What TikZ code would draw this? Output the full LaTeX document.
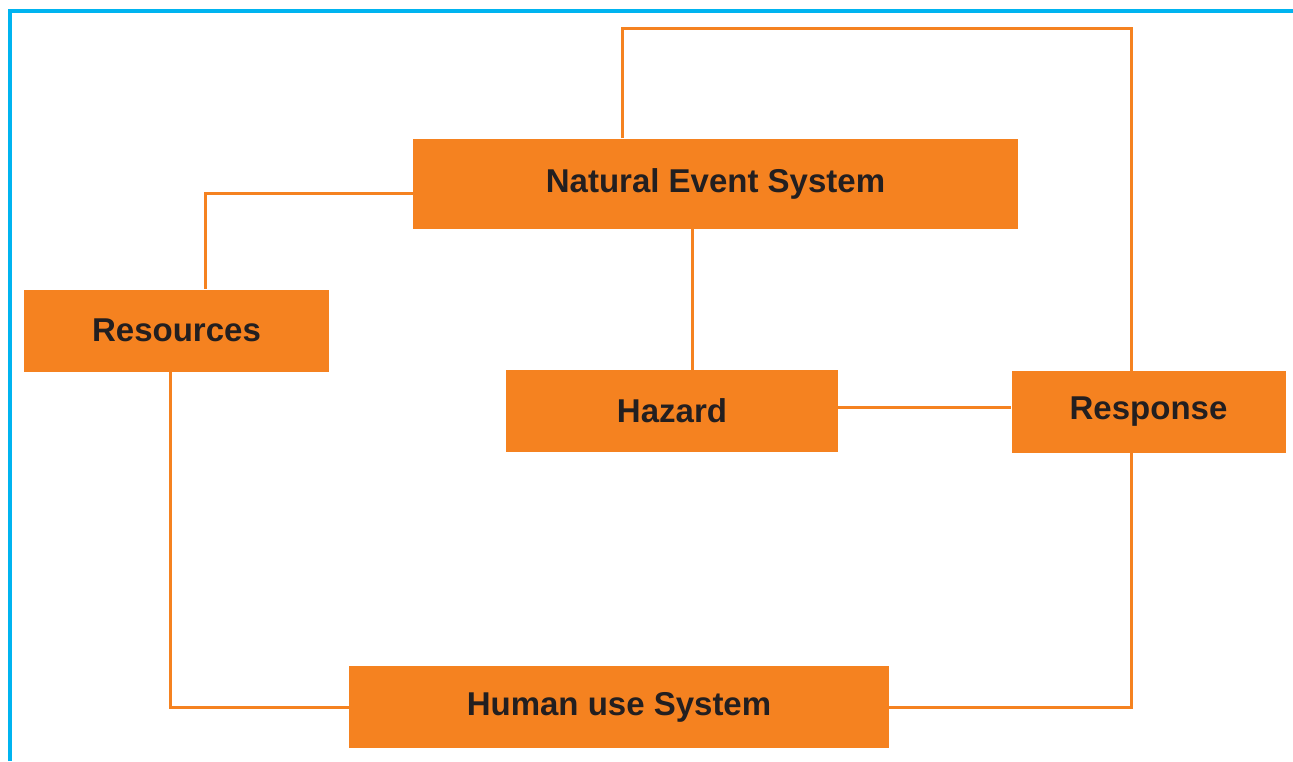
\documentclass[tikz,border=0pt]{standalone}
\usepackage{fontspec}
\setmainfont{Liberation Sans}
\definecolor{boxorange}{HTML}{F58220}
\definecolor{frameblue}{HTML}{00B4F0}
\definecolor{labeltext}{HTML}{231F20}
\begin{document}
\begin{tikzpicture}[x=1pt,y=-1pt,
  sysbox/.style={fill=boxorange,draw=none,inner sep=0pt,anchor=center,
    text=labeltext,font=\fontsize{33}{37}\selectfont\bfseries},
  link/.style={draw=boxorange,line width=3pt}]
\useasboundingbox (0,0) rectangle (1293,761);
% frame along the top and left edges
\draw[frameblue,line width=4pt] (10,761) -- (10,11) -- (1293,11);
% boxes
\node[sysbox,minimum width=605pt,minimum height=90pt] (nes) at (715.5,183.5) {Natural Event System};
\node[sysbox,minimum width=305pt,minimum height=82pt] (res) at (176.5,330.5) {Resources};
\node[sysbox,minimum width=332pt,minimum height=82pt] (haz) at (672,411) {Hazard};
\node[sysbox,minimum width=274pt,minimum height=82pt] (resp) at (1148.5,412) {Response};
\node[sysbox,minimum width=540pt,minimum height=82pt] (hum) at (619,707) {Human use System};
% routing points
\coordinate (tl) at (622,28);
\coordinate (tr) at (1131,28);
\coordinate (rk) at (205,193);
\coordinate (hk) at (692,0);
\coordinate (hr) at (0,407);
\coordinate (bl) at (170,707);
\coordinate (br) at (1131,707);
% connectors
\draw[link] (nes.north -| tl) -- (tl) -- (tr) -- (resp.north -| tr);
\draw[link] (nes.west |- rk) -- (rk) -- (res.north -| rk);
\draw[link] (nes.south -| hk) -- (haz.north -| hk);
\draw[link] (haz.east |- hr) -- (resp.west |- hr);
\draw[link] (res.south -| bl) -- (bl) -- (hum.west |- bl);
\draw[link] (hum.east |- br) -- (br) -- (resp.south -| br);
\end{tikzpicture}
\end{document}
